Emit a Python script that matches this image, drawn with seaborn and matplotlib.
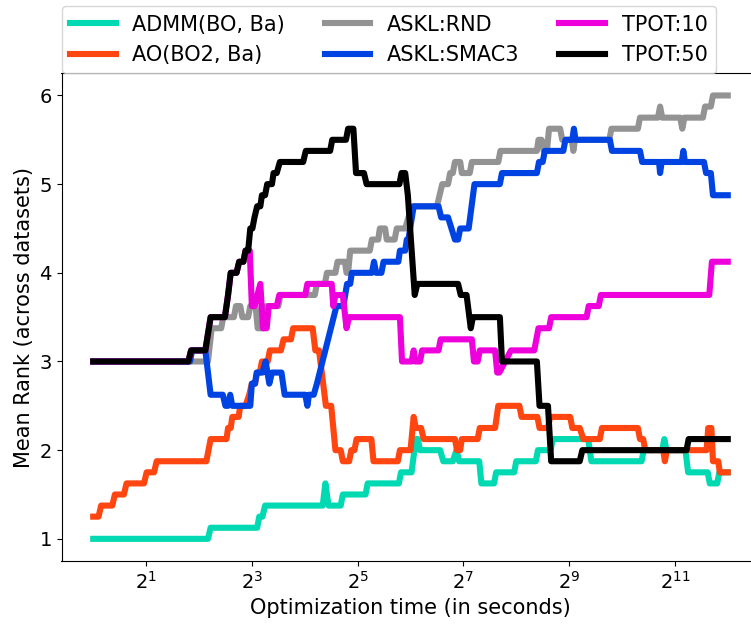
import numpy as np
import pandas as pd
import matplotlib
matplotlib.use("Agg")
import matplotlib.pyplot as plt
import matplotlib.ticker as mticker
import seaborn as sns

# ---- data: log2(optimization time in seconds) and mean rank ----
methods = ["ADMM(BO, Ba)", "AO(BO2, Ba)", "ASKL:RND", "ASKL:SMAC3", "TPOT:10", "TPOT:50"]

admm_log2t = [0, 2.17, 2.22, 3.10, 3.14, 3.20, 3.25, 4.34, 4.39, 4.45, 4.68, 4.72, 5.15, 5.19,
              5.78, 5.82, 6.02, 6.10, 6.14, 6.18, 6.56, 6.62, 6.80, 6.87, 6.92, 7.30, 7.34, 7.58,
              7.62, 7.96, 8.00, 8.37, 8.41, 8.65, 8.69, 9.36, 9.42, 10.37, 10.41, 10.76, 10.80,
              10.84, 11.20, 11.25, 11.62, 11.66, 11.80, 11.84, 12.0]
admm_rank = [1.0, 1.0, 1.125, 1.125, 1.25, 1.25, 1.375, 1.375, 1.625, 1.375, 1.375, 1.5, 1.5, 1.625,
             1.625, 1.75, 1.75, 2.125, 2.125, 2.0, 2.0, 1.875, 1.875, 2.0, 1.875, 1.875, 1.625, 1.625,
             1.75, 1.75, 1.875, 1.875, 2.0, 2.0, 2.125, 2.125, 1.875, 1.875, 2.0, 2.0, 2.125,
             2.0, 2.0, 1.75, 1.75, 1.625, 1.625, 1.75, 1.75]

ao_log2t = [0, 0.10, 0.15, 0.36, 0.41, 0.58, 0.63, 0.96, 1.01, 1.15, 1.20, 2.14, 2.22, 2.52, 2.55,
            2.60, 2.63, 2.75, 2.78, 2.88, 2.95, 3.00, 3.06, 3.10, 3.15, 3.19, 3.30, 3.34, 3.55, 3.60,
            3.74, 3.78, 4.15, 4.20, 4.27, 4.40, 4.50, 4.58, 4.68, 4.72, 4.84, 4.88, 4.94, 4.98, 5.26,
            5.30, 5.76, 5.80, 6.00, 6.06, 6.10, 6.20, 6.25, 6.84, 6.88, 6.94, 6.97, 7.27, 7.31, 7.60,
            7.66, 8.06, 8.10, 8.40, 8.44, 8.60, 8.64, 9.02, 9.06, 9.20, 9.27, 9.58, 9.62, 10.30, 10.34,
            10.40, 10.44, 10.78, 10.81, 10.85, 11.60, 11.63, 11.69, 11.72, 11.82, 11.85, 12.0]
ao_rank = [1.25, 1.25, 1.375, 1.375, 1.5, 1.5, 1.625, 1.625, 1.75, 1.75, 1.875, 1.875, 2.125, 2.125, 2.25,
           2.25, 2.375, 2.375, 2.5, 2.5, 2.625, 2.75, 2.75, 2.875, 2.875, 3.0, 3.0, 3.125, 3.125, 3.25,
           3.25, 3.375, 3.375, 3.125, 3.125, 2.5, 2.5, 2.0, 2.0, 1.875, 1.875, 2.0, 2.0, 2.125, 2.125,
           1.875, 1.875, 2.0, 2.0, 2.375, 2.25, 2.25, 2.125, 2.125, 2.0, 2.0, 2.125, 2.125, 2.25, 2.25,
           2.5, 2.5, 2.375, 2.375, 2.25, 2.25, 2.375, 2.375, 2.25, 2.25, 2.125, 2.125, 2.25, 2.25, 2.125,
           2.125, 2.0, 2.0, 1.875, 2.0, 2.0, 2.25, 2.25, 1.875, 1.875, 1.75, 1.75]

rnd_log2t = [0, 2.17, 2.24, 2.42, 2.46, 2.66, 2.70, 2.78, 2.82, 2.93, 2.97, 3.07, 3.11, 3.22, 3.27,
             3.50, 3.54, 4.19, 4.23, 4.38, 4.42, 4.58, 4.62, 4.76, 4.79, 4.82, 4.86, 5.23, 5.27, 5.39,
             5.42, 5.52, 5.55, 5.70, 5.74, 5.90, 5.96, 6.05, 6.50, 6.55, 6.60, 6.71, 6.75, 6.80, 6.84,
             6.94, 6.97, 7.12, 7.16, 7.66, 7.70, 8.39, 8.42, 8.48, 8.52, 8.58, 8.62, 8.83, 8.87, 9.05,
             9.08, 9.11, 9.76, 9.80, 10.30, 10.34, 10.68, 10.72, 10.76, 11.10, 11.14, 11.18, 11.53,
             11.57, 11.68, 11.72, 12.0]
rnd_rank = [3.0, 3.0, 3.375, 3.375, 3.5, 3.5, 3.625, 3.625, 3.5, 3.5, 3.625, 3.625, 3.375, 3.375, 3.625,
            3.625, 3.75, 3.75, 3.875, 3.875, 4.0, 4.0, 4.125, 4.125, 4.0, 4.0, 4.25, 4.25, 4.375, 4.375,
            4.5, 4.5, 4.375, 4.375, 4.5, 4.5, 4.625, 4.75, 4.75, 4.875, 5.0, 5.0, 5.125, 5.125, 5.25,
            5.25, 5.125, 5.125, 5.25, 5.25, 5.375, 5.375, 5.5, 5.5, 5.375, 5.375, 5.625, 5.625, 5.5, 5.5,
            5.375, 5.5, 5.5, 5.625, 5.625, 5.75, 5.75, 5.875, 5.75, 5.75, 5.625, 5.75, 5.75,
            5.875, 5.875, 6.0, 6.0]

smac_log2t = [0, 1.83, 1.87, 2.12, 2.22, 2.45, 2.50, 2.55, 2.59, 2.63, 2.97, 3.00, 3.06, 3.09, 3.20,
              3.26, 3.33, 3.38, 3.56, 3.62, 4.01, 4.05, 4.08, 4.17, 4.23, 4.60, 4.73, 4.80, 4.86, 4.89,
              5.27, 5.31, 5.35, 5.45, 5.49, 5.77, 5.80, 5.90, 5.93, 5.96, 6.06, 6.53, 6.58, 6.71, 6.84,
              6.90, 6.94, 7.10, 7.21, 7.69, 7.73, 8.39, 8.43, 8.50, 8.54, 8.89, 8.93, 9.06, 9.09, 9.12,
              9.77, 9.81, 10.34, 10.38, 10.70, 10.72, 10.75, 11.13, 11.16, 11.19, 11.55, 11.59, 11.68,
              11.72, 12.0]
smac_rank = [3.0, 3.0, 3.125, 3.125, 2.625, 2.625, 2.5, 2.5, 2.625, 2.5, 2.5, 2.75, 2.75, 2.875, 2.875,
             3.0, 2.75, 2.875, 2.875, 2.625, 2.625, 2.5, 2.625, 2.625, 2.75, 3.625, 3.625, 3.875, 3.875, 4.0,
             4.0, 4.125, 4.0, 4.0, 4.125, 4.125, 4.25, 4.25, 4.375, 4.375, 4.75, 4.75, 4.625, 4.625, 4.375,
             4.375, 4.5, 4.5, 5.0, 5.0, 5.125, 5.125, 5.25, 5.25, 5.375, 5.375, 5.5, 5.5, 5.625, 5.5,
             5.5, 5.375, 5.375, 5.25, 5.25, 5.125, 5.25, 5.25, 5.375, 5.25, 5.25, 5.125, 5.125,
             4.875, 4.875]

tpot10_log2t = [0, 1.80, 1.85, 2.12, 2.22, 2.49, 2.55, 2.60, 2.71, 2.76, 2.84, 2.88, 2.96, 3.00, 3.05,
                3.16, 3.21, 3.28, 3.32, 3.47, 3.52, 4.01, 4.05, 4.51, 4.54, 4.58, 4.72, 4.79, 4.84, 5.80,
                5.84, 6.02, 6.06, 6.09, 6.18, 6.22, 6.53, 6.57, 7.16, 7.20, 7.27, 7.31, 7.60, 7.64, 7.68,
                7.90, 8.34, 8.42, 8.62, 8.66, 9.33, 9.37, 9.56, 9.60, 11.65, 11.70, 12.0]
tpot10_rank = [3.0, 3.0, 3.125, 3.125, 3.5, 3.5, 3.75, 4.0, 4.0, 4.125, 4.125, 4.25, 4.25, 3.625, 3.625,
               3.875, 3.375, 3.375, 3.625, 3.625, 3.75, 3.75, 3.875, 3.875, 3.625, 3.75, 3.75, 3.375, 3.5, 3.5,
               3.0, 3.0, 3.125, 3.0, 3.0, 3.125, 3.125, 3.25, 3.25, 3.0, 3.0, 3.125, 3.125, 2.875, 2.875,
               3.125, 3.125, 3.375, 3.375, 3.5, 3.5, 3.625, 3.625, 3.75, 3.75, 4.125, 4.125]

tpot50_log2t = [0, 1.80, 1.85, 2.12, 2.22, 2.49, 2.55, 2.60, 2.71, 2.76, 2.84, 2.88, 2.93, 2.97, 3.01,
                3.05, 3.10, 3.16, 3.19, 3.25, 3.29, 3.38, 3.41, 3.47, 3.53, 3.97, 4.02, 4.48, 4.52, 4.78,
                4.82, 4.92, 4.97, 5.12, 5.17, 5.79, 5.83, 5.90, 5.95, 6.08, 6.13, 6.90, 6.95, 7.06, 7.14,
                7.18, 7.69, 7.73, 8.39, 8.44, 8.60, 8.66, 9.20, 9.25, 11.22, 11.26, 12.0]
tpot50_rank = [3.0, 3.0, 3.125, 3.125, 3.5, 3.5, 3.75, 4.0, 4.0, 4.125, 4.125, 4.25, 4.25, 4.5, 4.5,
               4.625, 4.75, 4.75, 4.875, 4.875, 5.0, 5.0, 5.125, 5.125, 5.25, 5.25, 5.375, 5.375, 5.5, 5.5,
               5.625, 5.625, 5.125, 5.125, 5.0, 5.0, 5.125, 5.125, 4.875, 3.75, 3.875, 3.875, 3.75, 3.75, 3.375,
               3.5, 3.5, 3.0, 3.0, 2.5, 2.5, 1.875, 1.875, 2.0, 2.0, 2.125, 2.125]

xtick_exponents = [1, 3, 5, 7, 9, 11]
ytick_values = [1, 2, 3, 4, 5, 6]

palette = {
    "ADMM(BO, Ba)": "#00d9b2",
    "AO(BO2, Ba)": "#ff4510",
    "ASKL:RND": "#939393",
    "ASKL:SMAC3": "#0043e3",
    "TPOT:10": "#ee00dd",
    "TPOT:50": "#000000",
}

series = [(admm_log2t, admm_rank), (ao_log2t, ao_rank), (rnd_log2t, rnd_rank),
          (smac_log2t, smac_rank), (tpot10_log2t, tpot10_rank), (tpot50_log2t, tpot50_rank)]

frames = []
for name, (lt, rk) in zip(methods, series):
    frames.append(pd.DataFrame({"method": name,
                                "time": np.power(2.0, np.asarray(lt, dtype=float)),
                                "rank": rk}))
df = pd.concat(frames, ignore_index=True)

fs = 15
fig = plt.figure(figsize=(7.51, 6.24), dpi=100)
ax = fig.add_axes([61.5 / 751, 63 / 624, 698 / 751, 487.7 / 624])

sns.lineplot(data=df, x="time", y="rank", hue="method", hue_order=methods, palette=palette,
             estimator=None, sort=False, units="method", linewidth=4.4, ax=ax, legend=False)

ax.set_xscale("log", base=2)
ax.set_xticks([2.0 ** e for e in xtick_exponents])
ax.xaxis.set_major_formatter(mticker.LogFormatterMathtext(base=2))
ax.xaxis.set_minor_locator(mticker.NullLocator())
ax.set_yticks(ytick_values)
ax.tick_params(labelsize=14)
ax.set_xlabel("Optimization time (in seconds)", fontsize=fs)
ax.set_ylabel("Mean Rank (across datasets)", fontsize=fs)

handles = ax.get_lines()[:len(methods)]
ax.legend(handles, methods, ncol=3, fontsize=fs, loc="lower left", bbox_to_anchor=(0, 1),
          borderaxespad=0.0, handlelength=2.2, labelspacing=0.5, borderpad=0.4,
          columnspacing=1.9, framealpha=0.8)

fig.savefig("out.png", dpi=100)
